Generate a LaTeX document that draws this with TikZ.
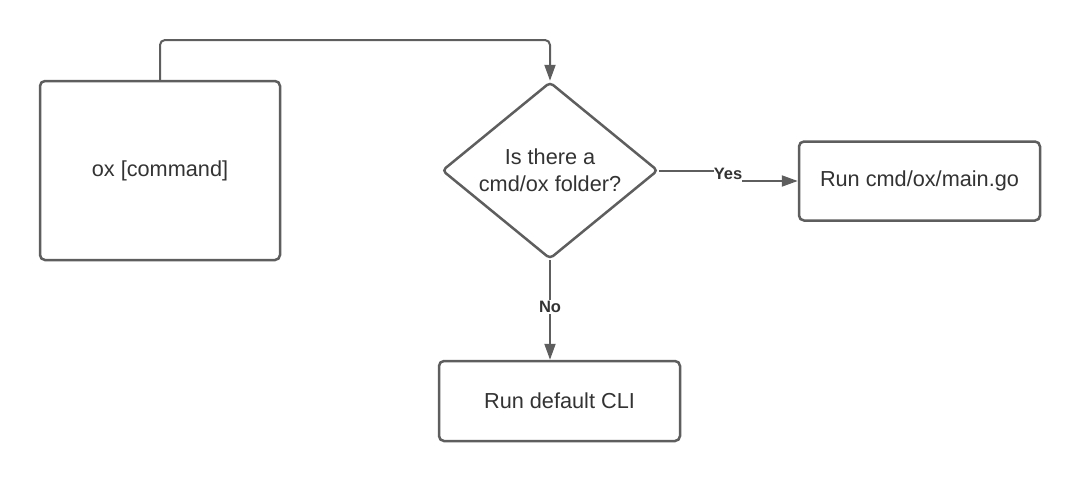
\documentclass[tikz,border=0pt]{standalone}
\usepackage{fontspec}
\setmainfont{Liberation Sans}
\usetikzlibrary{shapes.geometric,arrows.meta}
\definecolor{edge}{HTML}{5E5E5E}
\definecolor{txt}{HTML}{333333}
\begin{document}
\begin{tikzpicture}[x=1pt,y=-1pt,
  box/.style={draw=edge,line width=2.5pt,rounded corners=5pt,fill=white,text=txt,
    font=\fontsize{21.7}{25}\selectfont,inner sep=0pt},
  decide/.style={diamond,draw=edge,line width=2.5pt,rounded corners=4pt,fill=white,text=txt,
    font=\fontsize{21.7}{27}\selectfont,align=center,inner sep=0pt,aspect=1.22},
  conn/.style={draw=edge,line width=2pt,rounded corners=5pt,-{Triangle[length=16pt,width=11pt]}},
  lbl/.style={text=txt,font=\bfseries\fontsize{16.5}{18}\selectfont,inner sep=0pt}]
\useasboundingbox (0,0) rectangle (1080,482);
\node[box,minimum width=240pt,minimum height=179pt] (cmd) at (160,170.5) {ox [command]};
\node[decide,minimum width=216pt,minimum height=177pt] (q) at (550,170.5) {Is there a\\cmd/ox folder?};
\node[box,minimum width=241pt,minimum height=79pt] (main) at (919.5,181) {Run cmd/ox/main.go};
\node[box,minimum width=241pt,minimum height=80pt] (cli) at (559.5,401) {Run default CLI};
\coordinate (top1) at (160,40);
\coordinate (top2) at (550,40);
\draw[conn] (cmd.north) -- (top1) -- (top2) -- (q.north);
\node[lbl] (yes) at (728,174) {Yes};
\draw[draw=edge,line width=2pt] (q.east) -- (q.east -| yes.west);
\draw[conn] (yes.east |- main.west) -- (main.west);
\draw[conn] (q.south) -- (cli.north -| q.south);
\node[lbl,fill=white,inner sep=1pt] (no) at (550,307) {No};
\end{tikzpicture}
\end{document}
